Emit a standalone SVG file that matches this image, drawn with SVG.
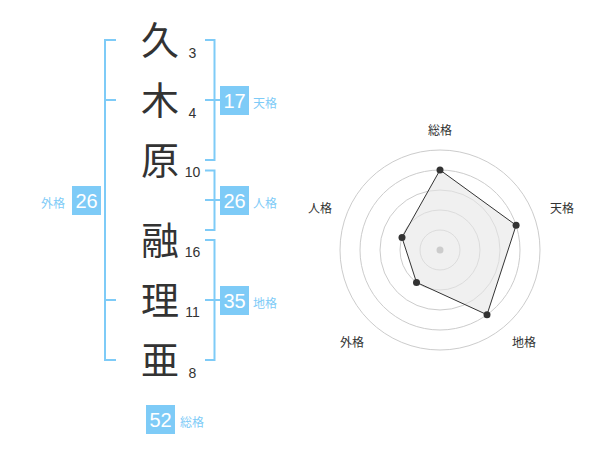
<svg xmlns="http://www.w3.org/2000/svg" width="600" height="470" viewBox="0 0 600 470">
<style>
.ch{font-family:"Noto Sans CJK JP","Noto Sans CJK SC",sans-serif;font-size:38px;fill:#333;text-anchor:middle}
.num{font-family:"Liberation Sans",Arial,sans-serif;font-size:14px;fill:#333;text-anchor:middle}
.br{fill:none;stroke:#7ecbf7;stroke-width:2}
.box{fill:#7ecbf7}
.bn{font-family:"Liberation Sans",Arial,sans-serif;font-size:20px;fill:#fff;text-anchor:middle}
.bl{font-family:"Noto Sans CJK JP","Noto Sans CJK SC",sans-serif;font-size:12px;fill:#7ecbf7}
.ring{fill:none;stroke:#ccc;stroke-width:1}
.rl{font-family:"Noto Sans CJK JP","Noto Sans CJK SC",sans-serif;font-size:12px;fill:#333;text-anchor:middle}
.pt{fill:#333}
</style>
<rect width="600" height="470" fill="#fff"/>
<g id="chars">
<g id="c1"><text class="ch" x="160" y="54">久</text><text class="num" x="192.5" y="58">3</text></g>
<g id="c2"><text class="ch" x="160" y="114">木</text><text class="num" x="192.5" y="118">4</text></g>
<g id="c3"><text class="ch" x="160" y="174">原</text><text class="num" x="192.5" y="177">10</text></g>
<g id="c4"><text class="ch" x="160" y="254">融</text><text class="num" x="192.5" y="257">16</text></g>
<g id="c5"><text class="ch" x="160" y="314">理</text><text class="num" x="192.5" y="317">11</text></g>
<g id="c6"><text class="ch" x="160" y="374">亜</text><text class="num" x="192.5" y="378">8</text></g>
</g>
<g id="connectors">
<path class="br" d="M116,40 H105 V360 H116 M105,100 H116 M105,300 H116"/>
<path class="br" d="M205,40 H214.5 V160 H205 M205,100 H220"/>
<path class="br" d="M205,170.5 H214.5 V230 H205 M205,200 H220"/>
<path class="br" d="M205,240 H214.5 V360 H205 M205,300 H220"/>
</g>
<g id="tenkaku"><rect class="box" x="220" y="86" width="29" height="29"/><text class="bn" x="234.5" y="107.5">17</text><text class="bl" x="253" y="108">天格</text></g>
<g id="jinkaku"><rect class="box" x="220" y="186" width="29" height="29"/><text class="bn" x="234.5" y="207.5">26</text><text class="bl" x="253" y="208">人格</text></g>
<g id="chikaku"><rect class="box" x="220" y="286" width="29" height="29"/><text class="bn" x="234.5" y="307.5">35</text><text class="bl" x="253" y="308">地格</text></g>
<g id="gaikaku"><rect class="box" x="72" y="186" width="29" height="29"/><text class="bn" x="86.5" y="207.5">26</text><text class="bl" x="41" y="208">外格</text></g>
<g id="soukaku"><rect class="box" x="146" y="405" width="29" height="29"/><text class="bn" x="160.5" y="426.5">52</text><text class="bl" x="180" y="427">総格</text></g>
<g id="radar">
<circle class="ring" cx="440" cy="250" r="20"/>
<circle class="ring" cx="440" cy="250" r="40"/>
<circle class="ring" cx="440" cy="250" r="60"/>
<circle class="ring" cx="440" cy="250" r="80"/>
<circle class="ring" cx="440" cy="250" r="100"/>
<polygon points="440,170 516.1,225.3 487,314.7 416.5,282.4 402,237.6" fill="#e6e6e6" fill-opacity="0.6" stroke="#333" stroke-width="1"/>
<circle cx="440" cy="250" r="3.5" fill="#ccc"/>
<circle class="pt" cx="440" cy="170" r="3.5"/>
<circle class="pt" cx="516.1" cy="225.3" r="3.5"/>
<circle class="pt" cx="487" cy="314.7" r="3.5"/>
<circle class="pt" cx="416.5" cy="282.4" r="3.5"/>
<circle class="pt" cx="402" cy="237.6" r="3.5"/>
<text class="rl" x="440" y="135">総格</text>
<text class="rl" x="562" y="213">天格</text>
<text class="rl" x="320" y="213">人格</text>
<text class="rl" x="352" y="347">外格</text>
<text class="rl" x="524" y="347">地格</text>
</g>
</svg>
